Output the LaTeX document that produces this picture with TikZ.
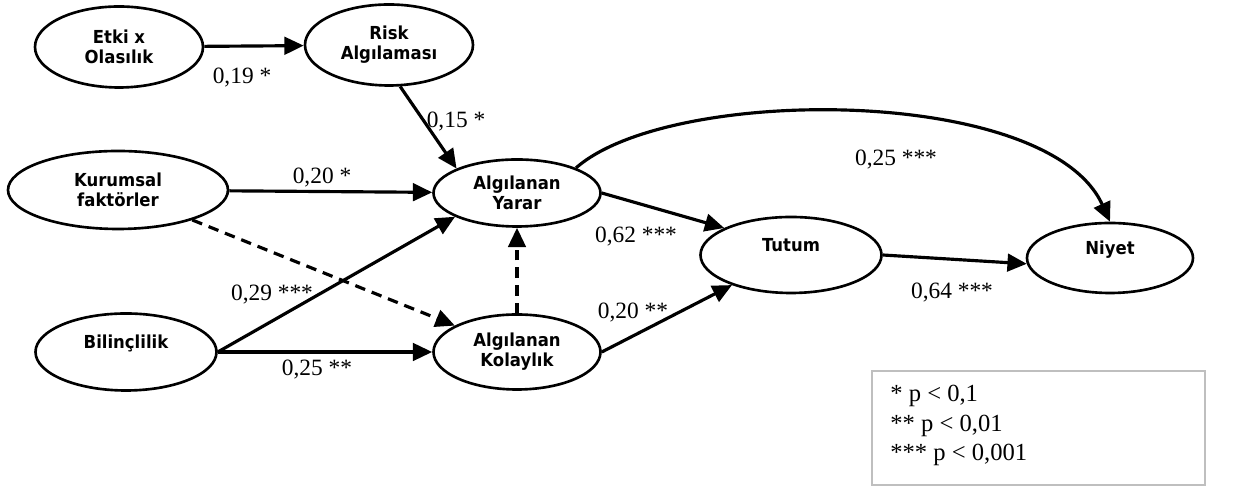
\documentclass[tikz,border=0pt]{standalone}
\usepackage{fontspec}
\setmainfont{Liberation Serif}
\newfontfamily\ovalfont[FakeStretch=0.92]{DejaVu Sans}
\usepackage{tikz}
\usetikzlibrary{arrows.meta,shapes.geometric}

\begin{document}
\begin{tikzpicture}[
  oval/.style={draw,ellipse,line width=1.5pt,inner sep=0pt,align=center,font=\ovalfont\bfseries\fontsize{10.2}{11.5}\selectfont},
  coef/.style={inner sep=1pt,font=\fontsize{13.3}{16}\selectfont},
  link/.style={line width=1.8pt,-{Triangle[length=11pt,width=10pt]}},
  weak/.style={link,dash pattern=on 6pt off 4pt}]
\useasboundingbox (0,0) rectangle (24.7,9.74);

\node at (2.38,8.80) [oval,minimum width=3.36cm,minimum height=1.62cm] (etki) {Etki x\\Olasılık};
\node at (7.78,8.84) [oval,minimum width=3.36cm,minimum height=1.62cm] (risk) {Risk\\Algılaması};
\node at (2.36,5.94) [oval,minimum width=4.4cm,minimum height=1.56cm] (kurum) {Kurumsal\\faktörler};
\node at (10.34,5.88) [oval,minimum width=3.34cm,minimum height=1.34cm] (yarar) {Algılanan\\Yarar};
\node at (10.34,2.70) [oval,minimum width=3.34cm,minimum height=1.5cm] (kolay) {Algılanan\\Kolaylık};
\node at (2.52,2.70) [oval,minimum width=3.62cm,minimum height=1.54cm] (bilinc) {Bilinçlilik\\~};
\node at (15.82,4.64) [oval,minimum width=3.62cm,minimum height=1.52cm] (tutum) {Tutum\\~};
\node at (22.20,4.58) [oval,minimum width=3.32cm,minimum height=1.4cm] (niyet) {Niyet\\~};

\draw[link] (etki) -- (risk);
\draw[link] (risk.-75) -- (yarar.158);
\draw[link] (kurum) -- (yarar);
\draw[weak] (kurum.-22) -- (kolay.157);
\draw[link] (bilinc.east) -- (yarar.-159);
\draw[link] (bilinc) -- (kolay);
\draw[weak] (kolay) -- (yarar);
\draw[link] (yarar.east) -- (tutum.158);
\draw[link] (kolay.east) -- (tutum.-153);
\draw[link] (yarar.23) .. controls (13.40,8.04) and (20.96,8.04) .. (niyet.north);
\draw[link] (tutum.east) -- (niyet.-176);

\node at (4.84,8.18) [coef] (c1) {0,19 *};
\node at (9.12,7.30) [coef] (c2) {0,15 *};
\node at (6.44,6.18) [coef] (c3) {0,20 *};
\node at (5.44,3.84) [coef] (c4) {0,29 ***};
\node at (6.34,2.34) [coef] (c5) {0,25 **};
\node at (12.72,5.00) [coef] (c6) {0,62 ***};
\node at (12.66,3.48) [coef] (c7) {0,20 **};
\node at (17.92,6.54) [coef] (c8) {0,25 ***};
\node at (19.04,3.88) [coef] (c9) {0,64 ***};

\node at (20.77,1.18) [draw=black!25,line width=1.2pt,minimum width=6.66cm,minimum height=2.28cm] (key) {};
\node at (17.80,2.05) [anchor=north west,align=left,inner sep=0pt,font=\fontsize{14}{17}\selectfont] (keytext) {* p < 0,1\\** p < 0,01\\*** p < 0,001};
\end{tikzpicture}
\end{document}
